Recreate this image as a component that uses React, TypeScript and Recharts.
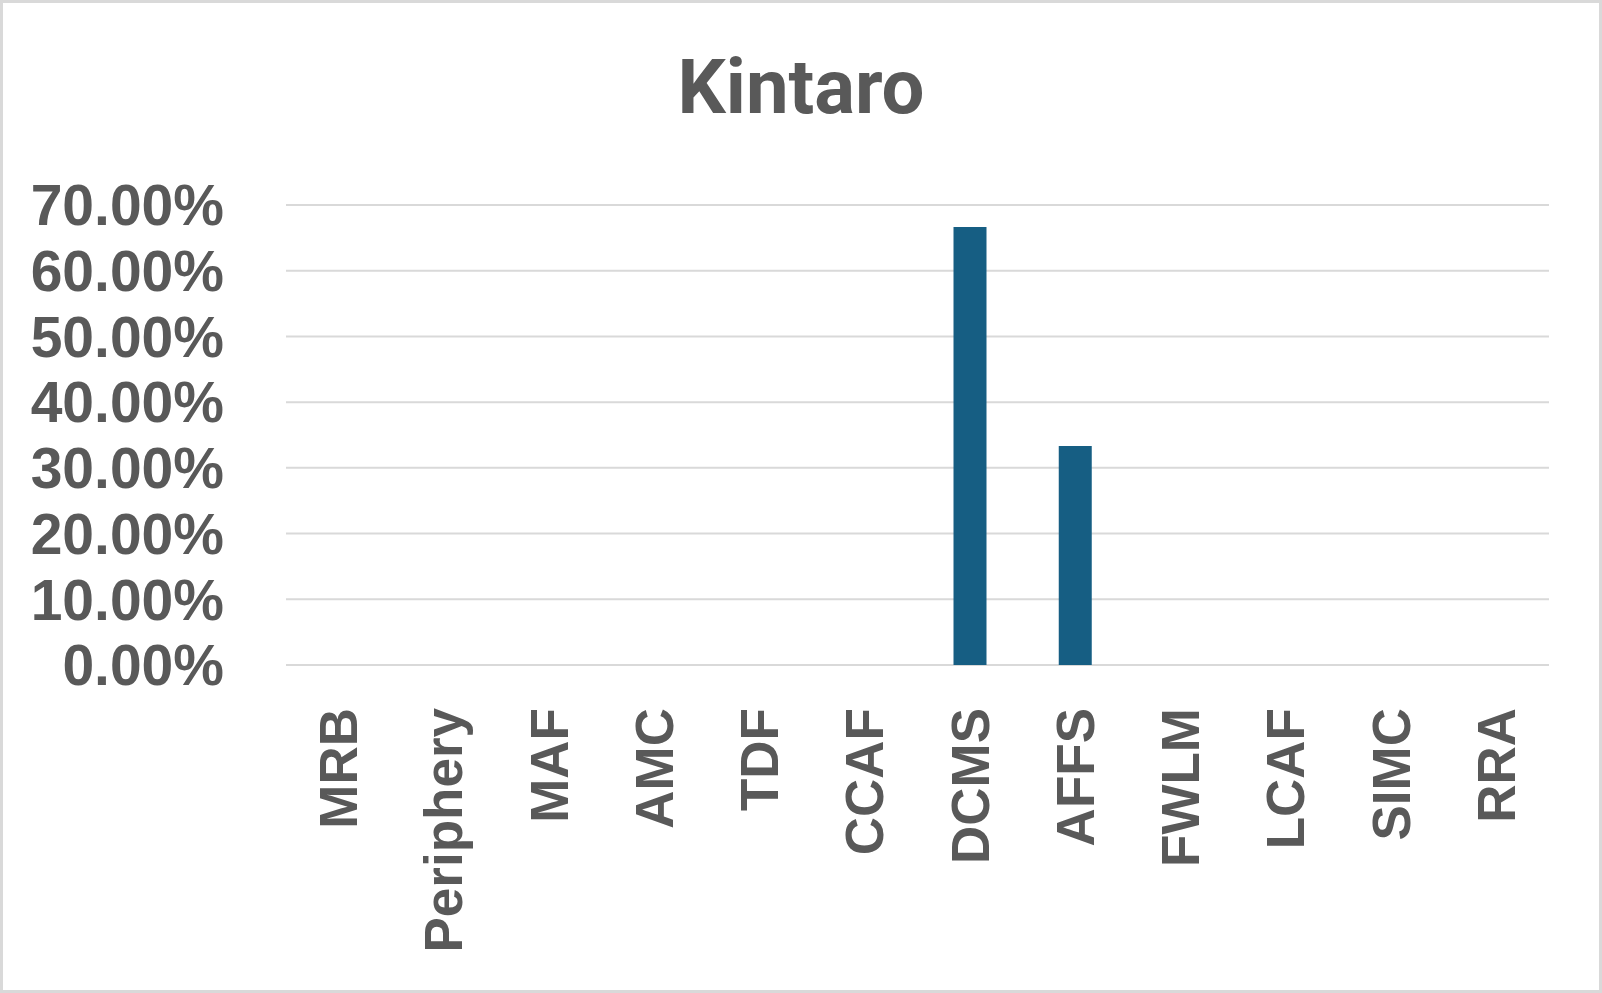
import React from 'react';
import { BarChart, Bar, XAxis, YAxis, CartesianGrid } from 'recharts';

// chart values
const categories = ['MRB', 'Periphery', 'MAF', 'AMC', 'TDF', 'CCAF', 'DCMS', 'AFFS', 'FWLM', 'LCAF', 'SIMC', 'RRA'];
const shares = [0, 0, 0, 0, 0, 0, 66.67, 33.33, 0, 0, 0, 0];
const yTicks = [0, 10, 20, 30, 40, 50, 60, 70];

const data = categories.map((name, i) => ({ name, value: shares[i] }));

const TEXT = '#595959';
const GRID = '#d9d9d9';
const BAR = '#165e83';

const XTick = (props: any) => {
  const { x, y, payload } = props;
  return (
    <text
      x={x}
      y={y}
      transform={`rotate(-90, ${x}, ${y})`}
      textAnchor="end"
      dominantBaseline="central"
      fill={TEXT}
      fontFamily="'Liberation Sans', Arial, sans-serif"
      fontWeight="bold"
      fontSize={53}
    >
      {payload.value}
    </text>
  );
};

export default function App() {
  return (
    <div
      style={{
        position: 'fixed',
        left: 0,
        top: 0,
        width: 1602,
        height: 993,
        boxSizing: 'border-box',
        border: `3px solid ${GRID}`,
        background: '#fff',
      }}
    >
      <BarChart
        width={1596}
        height={987}
        data={data}
        margin={{ top: 202, right: 50, left: 0, bottom: 0 }}
      >
        <text
          x={798}
          y={110}
          textAnchor="middle"
          fill={TEXT}
          fontFamily="Roboto, 'Liberation Sans', sans-serif"
          fontWeight="bold"
          fontSize={76}
        >
          Kintaro
        </text>
        <CartesianGrid vertical={false} stroke={GRID} strokeWidth={2} />
        <XAxis
          dataKey="name"
          interval={0}
          axisLine={false}
          tickLine={false}
          tickSize={0}
          tickMargin={43}
          height={325}
          tick={<XTick />}
        />
        <YAxis
          width={283}
          domain={[0, 70]}
          ticks={yTicks}
          interval={0}
          axisLine={false}
          tickLine={false}
          tickSize={0}
          tickMargin={62}
          tickFormatter={(v: number) => `${v.toFixed(2)}%`}
          tick={{
            fill: TEXT,
            fontFamily: "'Liberation Sans', Arial, sans-serif",
            fontWeight: 'bold',
            fontSize: 57,
          }}
        />
        <Bar dataKey="value" fill={BAR} barSize={33} isAnimationActive={false} />
      </BarChart>
    </div>
  );
}
